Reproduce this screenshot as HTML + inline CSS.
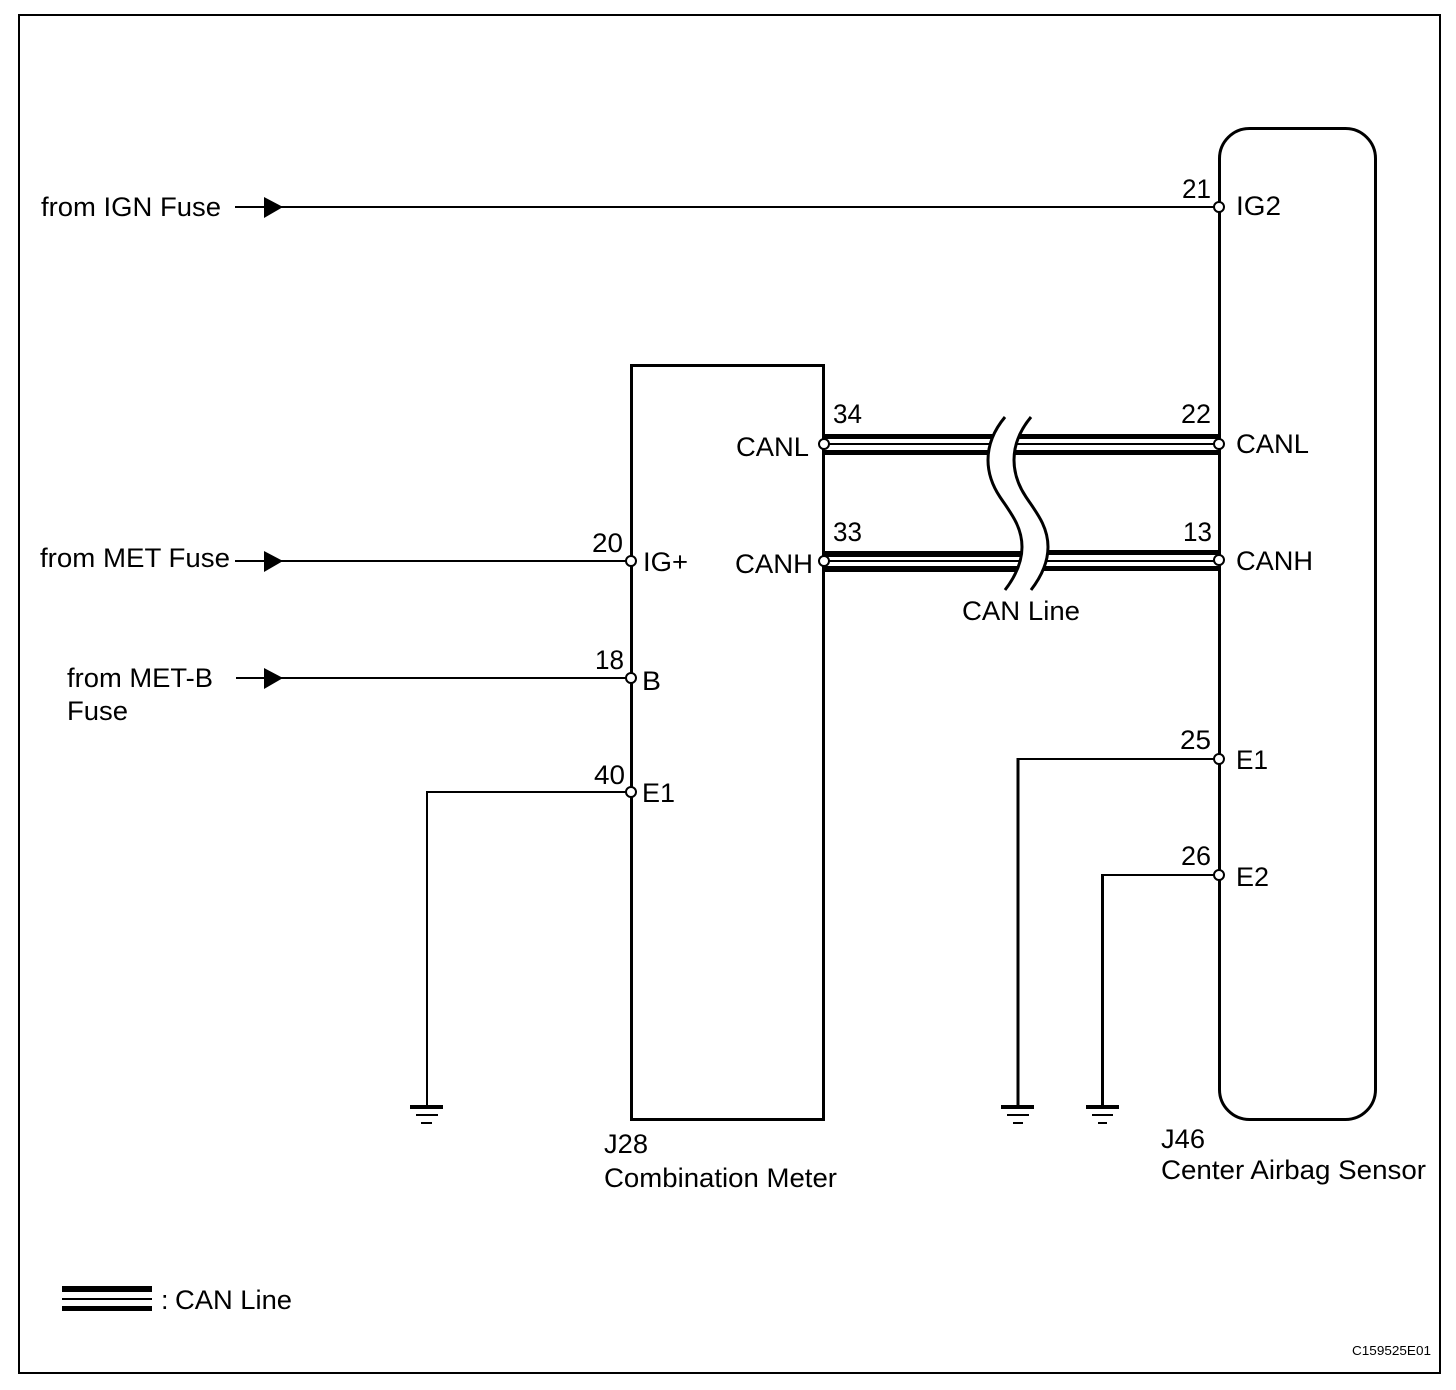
<!DOCTYPE html>
<html><head><meta charset="utf-8"><style>
html,body{margin:0;padding:0;background:#fff}
svg{display:block}
text{font-family:"Liberation Sans",sans-serif;font-size:27px;fill:#000}
.w{stroke:#000;stroke-width:2;fill:none;shape-rendering:crispEdges}
.b{stroke:#000;stroke-width:3;fill:none}
.n{fill:#fff;stroke:#000;stroke-width:2}
.c{fill:#fff;stroke:none}
.k{stroke:#000;stroke-width:3;fill:none}
</style></head><body>
<svg xmlns="http://www.w3.org/2000/svg" width="1456" height="1390" viewBox="0 0 1456 1390">
<rect x="19" y="15" width="1421" height="1358" fill="#fff" stroke="#000" stroke-width="2"/>

<!-- units -->
<rect x="631.5" y="365.5" width="192" height="754" class="b"/>
<rect x="1219.5" y="128.5" width="156" height="991" rx="30" ry="30" class="b"/>

<!-- wires -->
<path class="w" d="M235 207H1219M235 561H631M236 678H631"/>
<path class="w" d="M426 792H631M427 791V1106M1016.500 759H1219M1101 875H1219"/>
<path d="M1018 758V1106M1102.500 874V1106" stroke="#000" stroke-width="3" fill="none"/>
<polygon points="264,197 283,207 264,218"/>
<polygon points="264,551 283,561 264,572"/>
<polygon points="264,668 283,678 264,689"/>

<!-- CAN lines -->
<g fill="#000" shape-rendering="crispEdges">
<rect x="823" y="434" width="396" height="5"/><rect x="823" y="443" width="396" height="2"/><rect x="823" y="450" width="396" height="5"/>
<rect x="823" y="551" width="200" height="6"/><rect x="823" y="560" width="200" height="2"/><rect x="823" y="566" width="200" height="6"/>
<rect x="1023" y="550" width="196" height="5"/><rect x="1023" y="560" width="196" height="2"/><rect x="1023" y="566" width="196" height="5"/>
</g>
<path class="c" d="M1005 417C995 429 988 444 988 460C988 470 990 482 1000 497C1010 512 1022 526 1022 547C1022 562 1015 577 1005 590H1031C1041 577 1048 562 1048 547C1048 526 1036 512 1026 497C1016 482 1014 470 1014 460C1014 444 1021 429 1031 417Z"/>
<path class="k" d="M1005 417C995 429 988 444 988 460C988 470 990 482 1000 497C1010 512 1022 526 1022 547C1022 562 1015 577 1005 590"/>
<path class="k" d="M1031 417C1021 429 1014 444 1014 460C1014 470 1016 482 1026 497C1036 512 1048 526 1048 547C1048 562 1041 577 1031 590"/>

<!-- nodes -->
<circle class="n" cx="1219" cy="207" r="5"/>
<circle class="n" cx="824" cy="444" r="5"/>
<circle class="n" cx="1219" cy="444" r="5"/>
<circle class="n" cx="824" cy="561" r="5"/>
<circle class="n" cx="1219" cy="560" r="5"/>
<circle class="n" cx="631" cy="561" r="5"/>
<circle class="n" cx="631" cy="678" r="5"/>
<circle class="n" cx="631" cy="792" r="5"/>
<circle class="n" cx="1219" cy="759" r="5"/>
<circle class="n" cx="1219" cy="875" r="5"/>

<!-- grounds -->
<g fill="#000" shape-rendering="crispEdges">
<rect x="410" y="1105" width="33" height="4"/><rect x="416" y="1114" width="22" height="2"/><rect x="421" y="1122" width="11" height="2"/>
<rect x="1001" y="1105" width="33" height="4"/><rect x="1007" y="1114" width="22" height="2"/><rect x="1013" y="1122" width="10" height="2"/>
<rect x="1086" y="1105" width="33" height="4"/><rect x="1092" y="1114" width="21" height="2"/><rect x="1098" y="1122" width="9" height="2"/>
<!-- legend -->
<rect x="62" y="1286" width="90" height="6"/><rect x="62" y="1298" width="90" height="2"/><rect x="62" y="1306" width="90" height="5"/>
</g>

<!-- labels -->
<text x="41" y="216" textLength="180" lengthAdjust="spacingAndGlyphs">from IGN Fuse</text>
<text x="40" y="567" textLength="190" lengthAdjust="spacingAndGlyphs">from MET Fuse</text>
<text x="67" y="687" textLength="146" lengthAdjust="spacingAndGlyphs">from MET-B</text>
<text x="67" y="720" textLength="61" lengthAdjust="spacingAndGlyphs">Fuse</text>
<text x="1182" y="198" textLength="29" lengthAdjust="spacingAndGlyphs">21</text>
<text x="1236" y="215" textLength="45" lengthAdjust="spacingAndGlyphs">IG2</text>
<text x="833" y="423" textLength="29" lengthAdjust="spacingAndGlyphs">34</text>
<text x="1181" y="423" textLength="30" lengthAdjust="spacingAndGlyphs">22</text>
<text x="736" y="456" textLength="73" lengthAdjust="spacingAndGlyphs">CANL</text>
<text x="1236" y="453" textLength="73" lengthAdjust="spacingAndGlyphs">CANL</text>
<text x="833" y="541" textLength="29" lengthAdjust="spacingAndGlyphs">33</text>
<text x="1183" y="541" textLength="29" lengthAdjust="spacingAndGlyphs">13</text>
<text x="735" y="573" textLength="78" lengthAdjust="spacingAndGlyphs">CANH</text>
<text x="1236" y="570" textLength="77" lengthAdjust="spacingAndGlyphs">CANH</text>
<text x="592" y="552" textLength="31" lengthAdjust="spacingAndGlyphs">20</text>
<text x="643" y="571" textLength="45" lengthAdjust="spacingAndGlyphs">IG+</text>
<text x="962" y="620" textLength="118" lengthAdjust="spacingAndGlyphs">CAN Line</text>
<text x="595" y="669" textLength="29" lengthAdjust="spacingAndGlyphs">18</text>
<text x="642" y="690" textLength="19" lengthAdjust="spacingAndGlyphs">B</text>
<text x="594" y="784" textLength="31" lengthAdjust="spacingAndGlyphs">40</text>
<text x="642" y="802" textLength="33" lengthAdjust="spacingAndGlyphs">E1</text>
<text x="1180" y="749" textLength="31" lengthAdjust="spacingAndGlyphs">25</text>
<text x="1236" y="769" textLength="32" lengthAdjust="spacingAndGlyphs">E1</text>
<text x="1181" y="865" textLength="30" lengthAdjust="spacingAndGlyphs">26</text>
<text x="1236" y="886" textLength="33" lengthAdjust="spacingAndGlyphs">E2</text>
<text x="604" y="1153" textLength="44" lengthAdjust="spacingAndGlyphs">J28</text>
<text x="604" y="1187" textLength="233" lengthAdjust="spacingAndGlyphs">Combination Meter</text>
<text x="1161" y="1148" textLength="44" lengthAdjust="spacingAndGlyphs">J46</text>
<text x="1161" y="1179" textLength="265" lengthAdjust="spacingAndGlyphs">Center Airbag Sensor</text>
<text x="161" y="1309">:</text>
<text x="175" y="1309" textLength="117" lengthAdjust="spacingAndGlyphs">CAN Line</text>
<text x="1352" y="1355" style="font-size:13px" textLength="79" lengthAdjust="spacingAndGlyphs">C159525E01</text>
</svg>
</body></html>
